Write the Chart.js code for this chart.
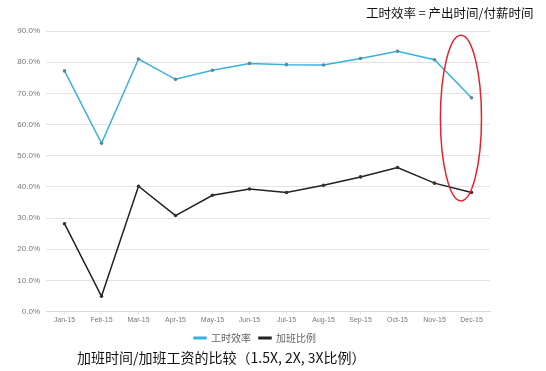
<!DOCTYPE html>
<html>
<head>
<meta charset="utf-8">
<script src="https://cdn.jsdelivr.net/npm/chart.js@4/dist/chart.umd.min.js"></script>
<style>
  html, body { margin: 0; padding: 0; background: #fff; }
  body { width: 546px; height: 371px; position: relative; overflow: hidden; font-family: "Noto Sans CJK SC", "Noto Sans", sans-serif; }
  #wrap { position: absolute; left: 0; top: 0; width: 508px; height: 353px; }
  #title { position: absolute; left: 366px; top: 3px; font-size: 12.5px; color: #111; white-space: nowrap; }
  #caption { position: absolute; left: 77px; top: 347px; font-size: 14px; color: #111; white-space: nowrap; }
</style>
</head>
<body>
<div id="wrap"><canvas id="chart"></canvas></div>
<div id="title">工时效率 = 产出时间/付薪时间</div>
<div id="caption">加班时间/加班工资的比较（1.5X, 2X, 3X比例）</div>
<script>
  const MONTHS = ['Jan-15', 'Feb-15', 'Mar-15', 'Apr-15', 'May-15', 'Jun-15',
                  'Jul-15', 'Aug-15', 'Sep-15', 'Oct-15', 'Nov-15', 'Dec-15'];
  const EFFICIENCY = [77.2, 54.0, 81.0, 74.5, 77.4, 79.6, 79.2, 79.1, 81.2, 83.5, 80.8, 68.6];
  const OVERTIME = [28.2, 4.9, 40.2, 30.8, 37.3, 39.3, 38.2, 40.5, 43.2, 46.2, 41.2, 38.2];
  const SERIES_NAMES = ['工时效率', '加班比例'];

  const BLUE = '#35b3da';
  const BLACK = '#222222';
  const GRID = '#e3e3e3';
  const TICK = '#777777';

  // red highlight ellipse around the Dec drop (category index / percent value)
  const RING = { x0: 10.16, x1: 11.27, yTop: 88.6, yBottom: 35.5 };

  const ringPlugin = {
    id: 'ring',
    afterDatasetsDraw(chart) {
      const { ctx, scales: { x, y } } = chart;
      const left = x.getPixelForValue(RING.x0);
      const right = x.getPixelForValue(RING.x1);
      const top = y.getPixelForValue(RING.yTop);
      const bottom = y.getPixelForValue(RING.yBottom);
      ctx.save();
      ctx.beginPath();
      ctx.ellipse((left + right) / 2, (top + bottom) / 2, (right - left) / 2, (bottom - top) / 2, 0, 0, Math.PI * 2);
      ctx.strokeStyle = '#e8202a';
      ctx.lineWidth = 1.5;
      ctx.stroke();
      ctx.restore();
    },
  };

  // nudge the legend a little to the right, like the original
  const legendShift = {
    id: 'legendShift',
    afterLayout(chart) {
      if (!chart.legend) return;
      chart.legend.left += 10;
      chart.legend.right += 10;
    },
  };

  const ctx = document.getElementById('chart').getContext('2d');
  new Chart(ctx, {
    type: 'line',
    data: {
      labels: MONTHS,
      datasets: [
        {
          label: SERIES_NAMES[0],
          data: EFFICIENCY,
          borderColor: BLUE,
          backgroundColor: BLUE,
          borderWidth: 1.5,
          pointRadius: 1.8,
          pointBackgroundColor: '#5a8a9a',
          pointBorderWidth: 0,
          tension: 0,
        },
        {
          label: SERIES_NAMES[1],
          data: OVERTIME,
          borderColor: BLACK,
          backgroundColor: BLACK,
          borderWidth: 1.5,
          pointRadius: 1.8,
          pointBackgroundColor: '#333',
          pointBorderWidth: 0,
          tension: 0,
        },
      ],
    },
    options: {
      responsive: true,
      maintainAspectRatio: false,
      animation: false,
      layout: { padding: { top: 31, right: 18, left: 0, bottom: 0 } },
      plugins: {
        legend: {
          position: 'bottom',
          labels: {
            color: '#666',
            boxWidth: 12,
            boxHeight: 1.5,
            padding: 8,
            font: { size: 10, family: '"Noto Sans CJK SC", sans-serif' },
          },
        },
        tooltip: { enabled: false },
      },
      scales: {
        x: {
          offset: true,
          grid: { display: true, drawOnChartArea: false, drawTicks: true, tickLength: 3, color: '#e6e6e6' },
          border: { color: '#d8d8d8' },
          ticks: { color: TICK, font: { size: 7, family: 'Arial, "Liberation Sans", sans-serif' }, maxRotation: 0, autoSkip: false, padding: 1 },
        },
        y: {
          min: 0,
          max: 90,
          afterFit: s => { s.width = 46; },
          grid: { color: GRID, drawTicks: false },
          border: { display: false },
          ticks: {
            stepSize: 10,
            color: TICK,
            padding: 6,
            font: { size: 8, family: 'Arial, "Liberation Sans", sans-serif' },
            callback: v => v.toFixed(1) + '%',
          },
        },
      },
    },
    plugins: [ringPlugin, legendShift],
  });
</script>
</body>
</html>
